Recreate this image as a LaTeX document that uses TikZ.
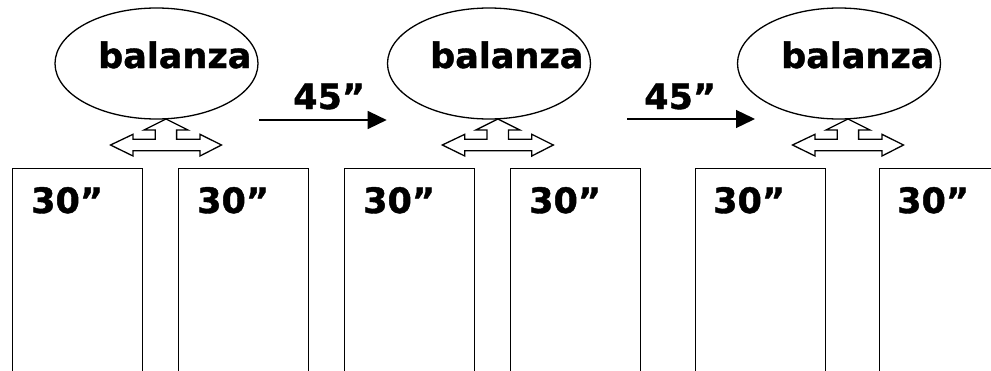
\documentclass[tikz,border=0pt]{standalone}
\usepackage{fontspec}
\setmainfont{DejaVu Sans}
\newfontfamily\heavyfont{DejaVu Sans Bold}[FakeBold=1.2]
\usetikzlibrary{shapes.geometric}
\usetikzlibrary{arrows.meta}
\newcommand*{\boxtop}{168}
\newcommand*{\labelbase}{213}
% three headed arrow under each scale, tip at (#1,#2)
\newcommand*{\splitarrow}[2]{%
    \draw[line width=1.3pt, line join=miter, shift={(#1,#2)}] (0,0) -- (22,11) -- (10.6,11) -- (10.6,20.3)
        -- (34,20.3) -- (34,15.3) -- (55.5,26) -- (34,37) -- (34,31.7) -- (-33,31.7) -- (-33,37)
        -- (-55.5,26) -- (-33,15.3) -- (-33,20.3) -- (-10.8,20.3) -- (-10.8,11) -- (-22,11) -- cycle;
}

\begin{document}
\begin{tikzpicture}[x=1pt, y=-1pt,
    scalenode/.style={ellipse, draw, line width=1.3pt, minimum width=203, minimum height=111, inner sep=0},
    stall/.style={rectangle, draw, line width=1.2pt, anchor=north west, minimum width=130, minimum height=230, inner sep=0},
    bigtext/.style={anchor=base west, inner sep=0, font=\heavyfont\fontsize{35}{35}\selectfont}]
    \useasboundingbox (0,0) rectangle (991,370);
    \clip (0,0) rectangle (991,370);
    % scales
    \node[scalenode] (scale1) at (156.5,63.5) {};
    \node[scalenode] (scale2) at (489,63.5) {};
    \node[scalenode] (scale3) at (839,63.5) {};
    \node[bigtext] (scale1text) at (98,68) {balanza};
    \node[bigtext] (scale2text) at (430,68) {balanza};
    \node[bigtext] (scale3text) at (781,68) {balanza};
    % arrows to the stalls
    \splitarrow{166}{119}
    \splitarrow{497.8}{119}
    \splitarrow{848}{119}
    % moves between scales
    \coordinate (move1start) at (259,120);
    \coordinate (move1end) at (386.7,120);
    \coordinate (move2start) at (627,119);
    \coordinate (move2end) at (755,119);
    \draw[-{Triangle[length=19pt, width=18pt]}, line width=1.3pt] (move1start) -- (move1end);
    \draw[-{Triangle[length=19pt, width=18pt]}, line width=1.3pt] (move2start) -- (move2end);
    \node[bigtext] (move1text) at (293,109) {45”};
    \node[bigtext] (move2text) at (644,109) {45”};
    % stalls
    \node[stall] (stall1) at (12,\boxtop) {};
    \node[stall] (stall2) at (178,\boxtop) {};
    \node[stall] (stall3) at (344,\boxtop) {};
    \node[stall] (stall4) at (509.5,\boxtop) {};
    \node[stall] (stall5) at (694.5,\boxtop) {};
    \node[stall] (stall6) at (879,\boxtop) {};
    \node[bigtext] (stall1text) at (31,\labelbase) {30”};
    \node[bigtext] (stall2text) at (197,\labelbase) {30”};
    \node[bigtext] (stall3text) at (363,\labelbase) {30”};
    \node[bigtext] (stall4text) at (529,\labelbase) {30”};
    \node[bigtext] (stall5text) at (713,\labelbase) {30”};
    \node[bigtext] (stall6text) at (897,\labelbase) {30”};
\end{tikzpicture}
\end{document}
